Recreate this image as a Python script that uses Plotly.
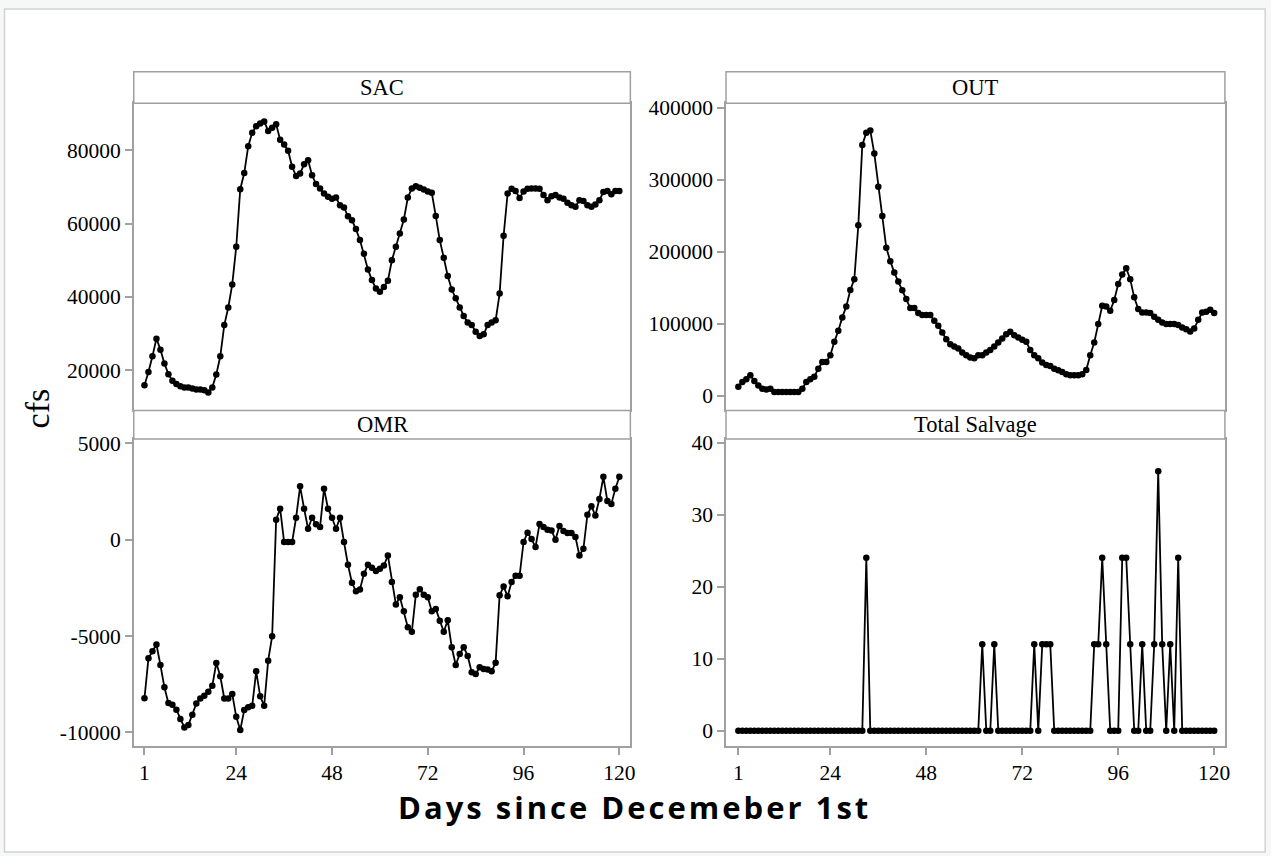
import plotly.graph_objects as go

# ---------------- data ----------------
days = list(range(1, 121))

sac = [15900, 19500, 23800, 28600, 25600, 21800, 18900, 17100, 16200, 15600,
       15300, 15300, 15000, 14700, 14700, 14500, 13900, 15300, 18800, 23800,
       32300, 37100, 43400, 53700, 69400, 73800, 81100, 84800, 86600, 87300,
       87900, 85300, 86200, 87100, 82900, 81600, 79900, 75500, 73000, 73700,
       76200, 77300, 73200, 70800, 69600, 68200, 67300, 66800, 67100, 65000,
       64400, 62000, 60900, 58500, 55500, 51800, 47500, 44600, 42300,
       41400, 42700, 44400, 50000, 53700, 57300, 61100, 67100, 69600, 70200,
       69800, 69300, 68800, 68400, 62100, 55500, 50700, 45700, 42000, 39600,
       37100, 34800, 33000, 32300, 30500, 29300, 29800, 32300, 33000, 33600,
       40900, 56700, 68200, 69500, 68900, 67000, 68800, 69500, 69600, 69600,
       69500, 67800, 66400, 67500, 67800, 67100, 66800, 65700, 65000, 64600,
       66400, 66200, 65000, 64600, 65200, 66400, 68600, 68900, 68000, 68900,
       68900]
sac = sac[:120]

out = [12800, 19300, 23000, 28500, 20700, 14600, 10000, 9000, 10000, 5300,
       5300, 5300, 5300, 5300, 5300, 5300, 10000, 19300, 23000, 26700,
       37800, 47100, 47100, 56400, 75000, 90300, 108900, 124200, 147000, 161800,
       236600, 348000, 365200, 368000, 336400, 290000, 249600, 205500, 186900, 171100,
       158600, 146500, 134400, 121900, 121900, 114900, 112100, 112100, 112100, 104200,
       97300, 88000, 78700, 71700, 68500, 65700, 60100, 56400, 53200, 52200,
       56400, 56400, 60100, 63800, 68500, 74100, 79600, 85700, 88900, 84300,
       81000, 77800, 75000, 63800, 56400, 52200, 46200, 42900, 41500, 37800,
       35500, 33200, 30000, 28500, 28500, 28500, 30000, 36000, 56400, 74100,
       99600, 125100, 124200, 118200, 133000, 155300, 168300, 177100, 161800, 136700,
       120500, 115800, 115800, 114900, 109800, 105600, 101900, 99600, 99600, 99600,
       98200, 95000, 92600, 89400, 93600, 105600, 115800, 116800, 119500, 114900]

omr = [-8230, -6155, -5790, -5440, -6500, -7660, -8480, -8560, -8820, -9310,
       -9740, -9620, -9080, -8500, -8240, -8100, -7890, -7580, -6400, -7090,
       -8240, -8240, -8010, -9190, -9880, -8840, -8700, -8620, -6830, -8130,
       -8620, -6280, -5010, 1040, 1610, -120, -120, -120, 1140, 2770,
       1610, 570, 1140, 800, 660, 2650, 1610, 1140, 570, 1140,
       -120, -1300, -2240, -2670, -2580, -1770, -1300, -1460, -1630, -1510,
       -1340, -820, -2200, -3360, -2980, -3710, -4540, -4780, -2860, -2570,
       -2860, -2980, -3710, -3590, -4200, -4780, -4180, -5580, -6500, -5930,
       -5580, -6030, -6880, -6970, -6620, -6710, -6740, -6830, -6380, -2880,
       -2430, -2930, -2200, -1870, -1870, -120, 360, 30, -380, 810,
       660, 520, 480, 0, 710, 450, 350, 350, 140, -820,
       -470, 1300, 1730, 1260, 2110, 3260, 2010, 1850, 2650, 3260]

salvage = [0, 0, 0, 0, 0, 0, 0, 0, 0, 0,
           0, 0, 0, 0, 0, 0, 0, 0, 0, 0,
           0, 0, 0, 0, 0, 0, 0, 0, 0, 0,
           0, 0, 24, 0, 0, 0, 0, 0, 0, 0,
           0, 0, 0, 0, 0, 0, 0, 0, 0, 0,
           0, 0, 0, 0, 0, 0, 0, 0, 0, 0,
           0, 12, 0, 0, 12, 0, 0, 0, 0, 0,
           0, 0, 0, 0, 12, 0, 12, 12, 12, 0,
           0, 0, 0, 0, 0, 0, 0, 0, 0, 12,
           12, 24, 12, 0, 0, 0, 24, 24, 12, 0,
           0, 12, 0, 0, 12, 36, 12, 0, 12, 0,
           24, 0, 0, 0, 0, 0, 0, 0, 0, 0]

panel_titles = ["SAC", "OUT", "OMR", "Total Salvage"]
sac_ticks = [20000, 40000, 60000, 80000]
out_ticks = [0, 100000, 200000, 300000, 400000]
omr_ticks = [-10000, -5000, 0, 5000]
salvage_ticks = [0, 10, 20, 30, 40]
x_ticks = [1, 24, 48, 72, 96, 120]
y_title = "cfs"
x_title = "Days since Decemeber 1st"

# ---------------- layout helpers ----------------
W, H = 1271, 856


def px(x):
    # target pixel x -> paper fraction (small correction for page capture)
    return min(1.0, max(0.0, ((x - 0.5) / 0.9963) / W))


def py(y):
    # target pixel y -> paper fraction (small correction for page capture)
    return min(1.0, max(0.0, 1 - ((y - 9.0) / 0.9883) / H))


LEFT = (134.3, 631.0)
RIGHT = (726.7, 1225.7)
TOP_PLOT = (104.0, 410.5)
TOP_STRIP = (72.7, 104.0)
BOT_PLOT = (439.0, 745.0)
BOT_STRIP = (410.5, 439.0)

FRAME = "#a0a0a0"
SERIF = "Liberation Serif, Times New Roman, serif"
TICK_SIZE = 21.5

panels = [
    dict(title=panel_titles[0], y=sac, col=LEFT, row=(TOP_PLOT, TOP_STRIP),
         yr=[9000, 92860], yt=sac_ticks, xr=[-1.68, 122.76], showx=False),
    dict(title=panel_titles[1], y=out, col=RIGHT, row=(TOP_PLOT, TOP_STRIP),
         yr=[-20170, 405980], yt=out_ticks, xr=[-2.08, 122.68], showx=False),
    dict(title=panel_titles[2], y=omr, col=LEFT, row=(BOT_PLOT, BOT_STRIP),
         yr=[-10692, 5224], yt=omr_ticks, xr=[-1.68, 122.76], showx=True),
    dict(title=panel_titles[3], y=salvage, col=RIGHT, row=(BOT_PLOT, BOT_STRIP),
         yr=[-2.09, 40.49], yt=salvage_ticks, xr=[-2.08, 122.68], showx=True),
]

fig = go.Figure()
layout = dict(
    width=W, height=H, autosize=False,
    margin=dict(l=0, r=0, t=0, b=0),
    paper_bgcolor="#f6f8f8", plot_bgcolor="white",
    showlegend=False,
    shapes=[dict(type="rect", xref="paper", yref="paper",
                 x0=px(5), x1=px(1266), y0=py(851), y1=py(10),
                 fillcolor="white", line=dict(color="#d2d2d2", width=1.5),
                 layer="below")],
    annotations=[],
)

for i, p in enumerate(panels, start=1):
    xa = "x" if i == 1 else f"x{i}"
    ya = "y" if i == 1 else f"y{i}"
    fig.add_trace(go.Scatter(
        x=days, y=p["y"], xaxis=xa, yaxis=ya, mode="lines+markers",
        line=dict(color="black", width=1.8),
        marker=dict(color="black", size=6.5),
        hoverinfo="skip"))
    (plot_rows, strip_rows) = p["row"]
    xkey = "xaxis" if i == 1 else f"xaxis{i}"
    ykey = "yaxis" if i == 1 else f"yaxis{i}"
    layout[xkey] = dict(
        domain=[px(p["col"][0]), px(p["col"][1])], anchor=ya,
        range=p["xr"], showgrid=False, zeroline=False,
        showline=True, mirror=True, linecolor=FRAME, linewidth=1.5,
        tickvals=x_ticks if p["showx"] else [],
        ticktext=[str(v) for v in x_ticks] if p["showx"] else [],
        ticks="outside" if p["showx"] else "", ticklen=7, tickwidth=1.5,
        tickcolor=FRAME, showticklabels=p["showx"],
        tickfont=dict(family=SERIF, size=TICK_SIZE, color="black"),
    )
    layout[ykey] = dict(
        domain=[py(plot_rows[1]), py(plot_rows[0])], anchor=xa,
        range=p["yr"], showgrid=False, zeroline=False,
        showline=True, mirror=True, linecolor=FRAME, linewidth=1.5,
        tickvals=p["yt"], ticktext=[str(v) for v in p["yt"]],
        ticks="outside", ticklen=7, tickwidth=1.5, tickcolor=FRAME,
        tickfont=dict(family=SERIF, size=TICK_SIZE, color="black"),
    )
    # strip header
    layout["shapes"].append(dict(
        type="rect", xref="paper", yref="paper",
        x0=px(p["col"][0]), x1=px(p["col"][1]),
        y0=py(strip_rows[1]), y1=py(strip_rows[0]),
        fillcolor="white", line=dict(color=FRAME, width=1.5), layer="above"))
    layout["annotations"].append(dict(
        text=p["title"], xref="paper", yref="paper",
        x=px((p["col"][0] + p["col"][1]) / 2),
        y=py((strip_rows[0] + strip_rows[1]) / 2),
        xanchor="center", yanchor="middle", showarrow=False,
        font=dict(family=SERIF, size=22.5, color="black")))

layout["annotations"].append(dict(
    text=y_title, xref="paper", yref="paper", x=px(38), y=py(408),
    xanchor="center", yanchor="middle", textangle=-90, showarrow=False,
    font=dict(family=SERIF, size=34, color="black")))
layout["annotations"].append(dict(
    text='<span style="letter-spacing:3px"><b>' + x_title + '</b></span>',
    xref="paper", yref="paper", x=px(635.5), y=py(806),
    xanchor="center", yanchor="middle", showarrow=False,
    font=dict(family="Open Sans, Noto Sans, sans-serif", size=31, color="black")))

fig.update_layout(**layout)
fig.write_html(
    "out.html",
    config={"displayModeBar": False},
    post_script=(
        "document.documentElement.style.margin='0';"
        "document.documentElement.style.overflow='hidden';"
        "document.body.style.margin='0';"
        "document.body.style.overflow='hidden';"
        "var gd=document.getElementsByClassName('plotly-graph-div')[0];"
        "gd.style.position='fixed';gd.style.top='0px';gd.style.left='0px';"
    ),
)
